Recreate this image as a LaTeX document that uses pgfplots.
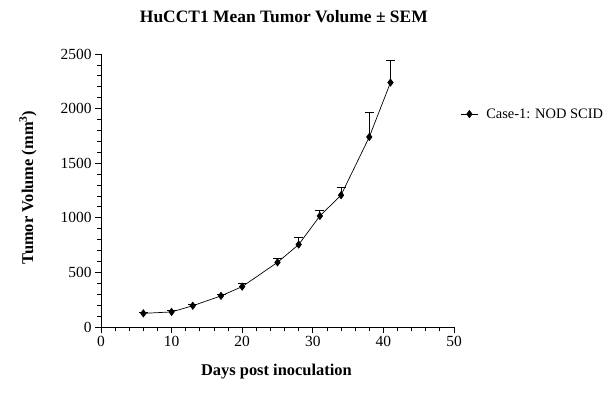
\documentclass[border=0pt]{standalone}
\usepackage{pgfplots}
\pgfplotsset{compat=1.18}
\usepackage{fontspec}
\setmainfont{Liberation Serif}
\begin{document}
\begin{tikzpicture}[x=1bp,y=1bp]
\path[use as bounding box] (-101,-87) rectangle (515,327);
\begin{axis}[
  at={(0,0)}, anchor=origin,
  scale only axis, width=353bp, height=273bp,
  xmin=0, xmax=50, ymin=0, ymax=2500,
  axis x line*=bottom, axis y line*=left,
  axis line style={-, line width=0.8pt},
  tick align=outside,
  major tick length=6bp, minor tick length=4bp,
  every tick/.style={black, line width=0.8pt},
  xtick={0,10,20,30,40,50}, ytick={0,500,1000,1500,2000,2500},
  minor tick num=4,
  /pgf/number format/assume math mode=true,
  /pgf/number format/1000 sep={},
  ticklabel style={font=\fontsize{15.5}{17}\selectfont},
  title={\fontsize{17.5}{20}\selectfont\bfseries HuCCT1 Mean Tumor Volume ± SEM},
  title style={at={(axis description cs:0.518,1)}, anchor=base, yshift=26bp},
  xlabel={\fontsize{16.5}{19}\selectfont\bfseries Days post inoculation},
  xlabel style={at={(axis description cs:0.497,-0.165)}, anchor=center},
  ylabel={\fontsize{16.5}{19}\selectfont\bfseries Tumor Volume (mm\textsuperscript{3})},
  ylabel style={at={(axis description cs:-0.207,0.511)}, anchor=center},
  legend style={draw=none, fill=none, at={(1.018,0.78)}, anchor=west,
    font=\fontsize{14.5}{16}\selectfont, inner sep=0pt},
  legend cell align=left,
]
\addplot[black, line width=0.7pt, mark=diamond*, mark size=3.6pt,
  mark options={solid, fill=black},
  error bars/.cd, y dir=plus, y explicit,
  error bar style={line width=0.8pt},
  error mark options={rotate=90, mark size=4.5bp, line width=0.8pt}]
coordinates {
  (6,125) +- (0,8)
  (10,138) +- (0,10)
  (13,195) +- (0,12)
  (17,285) +- (0,15)
  (20,370) +- (0,28)
  (25,592) +- (0,40)
  (28,755) +- (0,67)
  (31,1017) +- (0,52)
  (34,1207) +- (0,76)
  (38,1740) +- (0,229)
  (41,2238) +- (0,205)
};
\addlegendentry{\hspace{6bp}Case-1: NOD SCID}
\end{axis}
\end{tikzpicture}
\end{document}
